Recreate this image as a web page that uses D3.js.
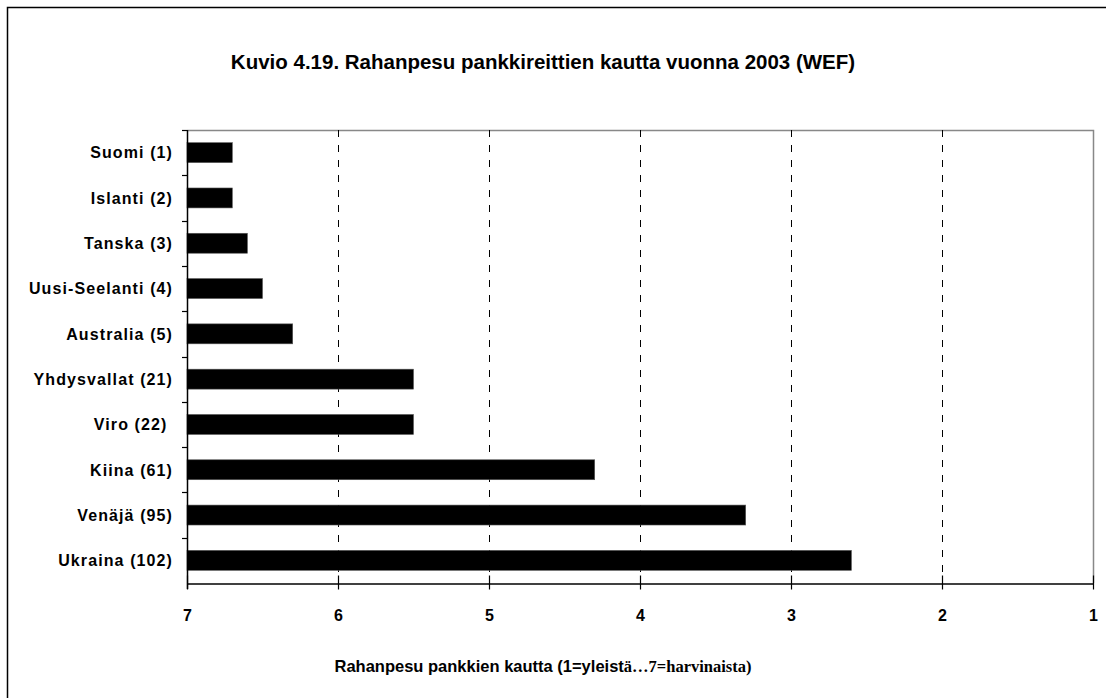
<!DOCTYPE html>
<html>
<head>
    <meta charset="utf-8">
    <title>Kuvio 4.19</title>
    <script src="https://d3js.org/d3.v7.min.js"></script>
    <style>
        body { margin: 0; background: #fff; }
        svg text { font-family: "Liberation Sans", Arial, sans-serif; font-weight: bold; fill: #000; }
    </style>
</head>
<body>
    <div id="chart"></div>
    <script>
        const countries = ['Suomi (1)', 'Islanti (2)', 'Tanska (3)', 'Uusi-Seelanti (4)', 'Australia (5)',
                           'Yhdysvallat (21)', 'Viro (22) ', 'Kiina (61)', 'Venäjä (95)', 'Ukraina (102)'];
        const scores = [6.7, 6.7, 6.6, 6.5, 6.3, 5.5, 5.5, 4.3, 3.3, 2.6];
        const xTicks = [7, 6, 5, 4, 3, 2, 1];
        const gridValues = [6, 5, 4, 3, 2];

        const W = 1106, H = 698;
        const margin = { top: 130, right: 13, bottom: 115, left: 187 };
        const plotTop = margin.top, plotBottom = H - margin.bottom;

        const svg = d3.select('#chart').append('svg')
            .attr('width', W)
            .attr('height', H);

        // outer frame
        svg.append('rect')
            .attr('x', 7.5).attr('y', 7.5)
            .attr('width', 1120).attr('height', 720)
            .attr('fill', 'none')
            .attr('stroke', '#000')
            .attr('stroke-width', 1.5);

        svg.append('text')
            .attr('x', 543)
            .attr('y', 69)
            .attr('text-anchor', 'middle')
            .style('font-size', '20.5px')
            .text('Kuvio 4.19. Rahanpesu pankkireittien kautta vuonna 2003 (WEF)');

        const x = d3.scaleLinear()
            .domain([7, 1])
            .range([margin.left, W - margin.right]);

        const y = d3.scaleBand()
            .domain(countries)
            .range([plotTop, plotBottom])
            .paddingInner(0.56)
            .paddingOuter(0.28);

        // plot area border (top + right)
        svg.append('path')
            .attr('d', `M${x(7)},${plotTop + 0.5}H${x(1) + 0.5}V${plotBottom}`)
            .attr('fill', 'none')
            .attr('stroke', '#888')
            .attr('stroke-width', 1.5);

        // dashed gridlines
        svg.selectAll('.grid')
            .data(gridValues)
            .enter().append('line')
            .attr('class', 'grid')
            .attr('x1', d => Math.round(x(d)) + 0.5)
            .attr('x2', d => Math.round(x(d)) + 0.5)
            .attr('y1', plotTop)
            .attr('y2', plotBottom)
            .attr('stroke', '#000')
            .attr('stroke-width', 1)
            .attr('stroke-dasharray', '7,8');

        // bars
        svg.selectAll('.bar')
            .data(countries)
            .enter().append('rect')
            .attr('class', 'bar')
            .attr('x', x(7))
            .attr('y', d => y(d))
            .attr('width', (d, i) => x(scores[i]) - x(7))
            .attr('height', y.bandwidth())
            .attr('fill', '#000')
            .attr('stroke', '#555')
            .attr('stroke-width', 0.6);

        // x axis
        const xAxis = svg.append('g')
            .attr('transform', `translate(0,${plotBottom + 0.5})`)
            .call(d3.axisBottom(x).tickValues(xTicks).tickFormat(d3.format('d'))
                .tickSize(6).tickSizeOuter(0).tickPadding(20));
        xAxis.select('.domain').attr('stroke', '#000').attr('stroke-width', 1.5);
        xAxis.selectAll('.tick line').attr('y1', -8).attr('stroke-width', 1.2);
        xAxis.selectAll('.tick text')
            .style('font-size', '16px')
            .style('font-family', '"Liberation Sans", Arial, sans-serif')
            .style('font-weight', 'bold');

        // y axis with separators between categories
        svg.append('line')
            .attr('x1', x(7) + 0.5).attr('x2', x(7) + 0.5)
            .attr('y1', plotTop).attr('y2', plotBottom + 6)
            .attr('stroke', '#000')
            .attr('stroke-width', 1.5);

        svg.selectAll('.sep')
            .data(countries)
            .enter().append('line')
            .attr('class', 'sep')
            .attr('x1', x(7) - 5).attr('x2', x(7))
            .attr('y1', d => Math.round(y(d) - y.step() * y.paddingInner() / 2) + 0.5)
            .attr('y2', d => Math.round(y(d) - y.step() * y.paddingInner() / 2) + 0.5)
            .attr('stroke', '#000')
            .attr('stroke-width', 1.2);

        svg.selectAll('.ylab')
            .data(countries)
            .enter().append('text')
            .attr('class', 'ylab')
            .attr('x', 173)
            .attr('y', d => y(d) + y.bandwidth() / 2)
            .attr('dy', '0.36em')
            .attr('text-anchor', 'end')
            .style('font-size', '16px')
            .style('letter-spacing', '1.1px')
            .style('white-space', 'pre')
            .text(d => d);

        // axis title, mixed fonts as in the original
        const xt = svg.append('text')
            .attr('x', 543)
            .attr('y', 672)
            .attr('text-anchor', 'middle')
            .style('font-size', '16.5px');
        xt.append('tspan').text('Rahanpesu pankkien kautta (1=yleist');
        xt.append('tspan')
            .style('font-family', '"Liberation Serif", "Times New Roman", serif')
            .text('ä…7=harvinaista)');
    </script>
</body>
</html>
